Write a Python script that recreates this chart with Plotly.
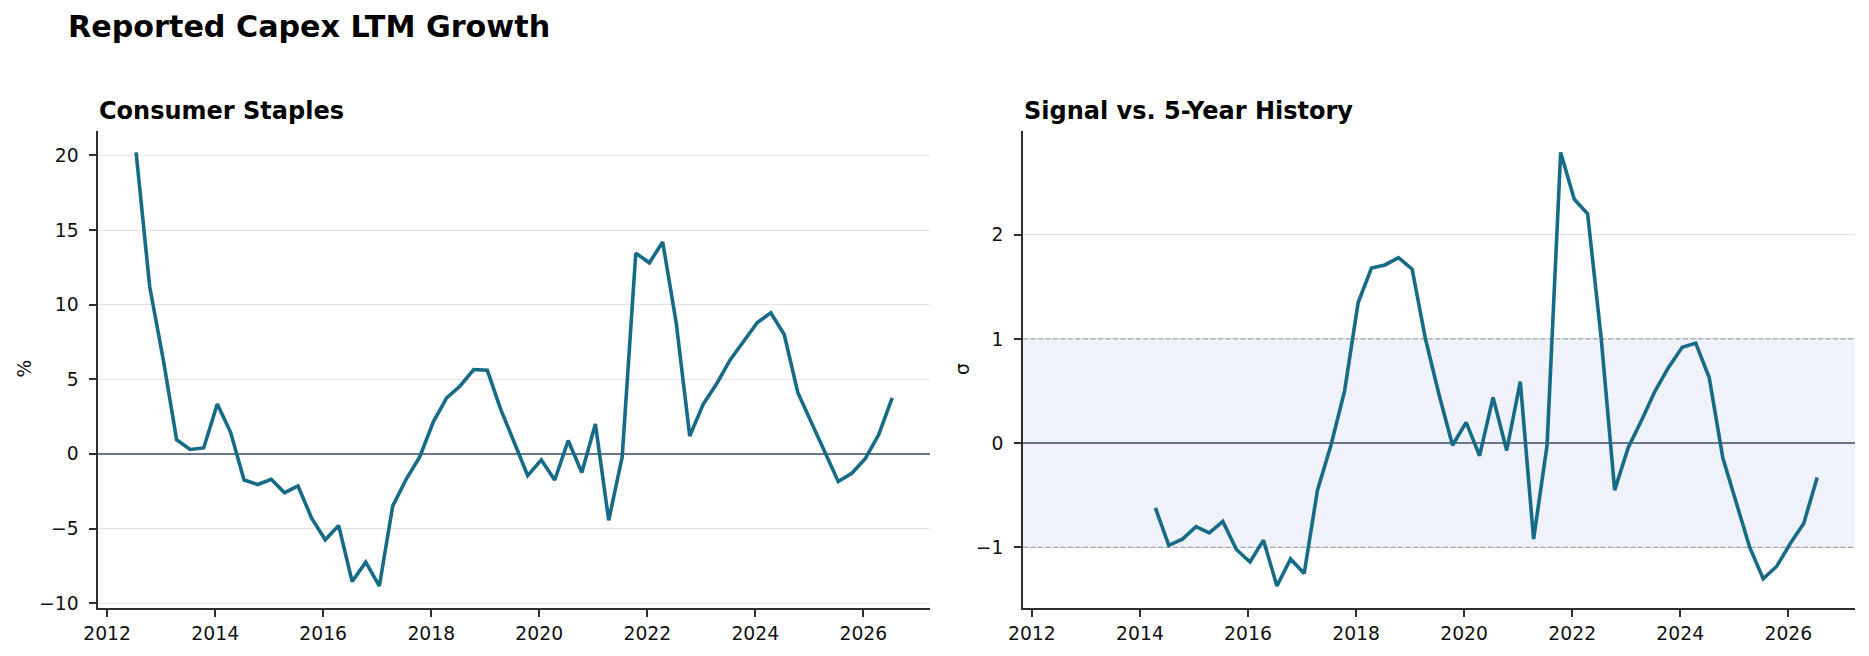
import pandas as pd
import plotly.graph_objects as go

W, H = 1869, 656

# ---------------- data ----------------
dates = pd.date_range("2012-07-15", periods=57, freq=pd.DateOffset(months=3))

capex_growth = [20.2, 11.2, 6.3, 0.95, 0.3, 0.4, 3.35, 1.45, -1.75, -2.05,
                -1.7, -2.6, -2.15, -4.3, -5.75, -4.8, -8.55, -7.25, -8.85, -3.5,
                -1.7, -0.2, 2.15, 3.75, 4.55, 5.65, 5.6, 3.0, 0.8, -1.45,
                -0.4, -1.75, 0.9, -1.25, 2.0, -4.45, -0.2, 13.45, 12.8, 14.2,
                8.8, 1.2, 3.35, 4.7, 6.3, 7.55, 8.8, 9.45, 8.0, 4.1,
                2.1, 0.1, -1.85, -1.3, -0.3, 1.3, 3.75]

sigma_start = 7  # z-score series begins 7 quarters later
sigma = [-0.62, -0.98, -0.92, -0.80, -0.86, -0.75, -1.02, -1.14, -0.93, -1.37,
         -1.11, -1.25, -0.45, -0.02, 0.50, 1.35, 1.68, 1.71, 1.78, 1.67,
         1.0, 0.47, -0.02, 0.2, -0.12, 0.44, -0.07, 0.59, -0.92, -0.02,
         2.79, 2.34, 2.20, 1.02, -0.45, -0.04, 0.22, 0.50, 0.73, 0.92,
         0.96, 0.63, -0.14, -0.57, -1.0, -1.30, -1.18, -0.96, -0.77, -0.33]
sigma_dates = dates[sigma_start:]

band_lo, band_hi = -1, 1

main_title = "Reported Capex LTM Growth"
left_title = "Consumer Staples"
right_title = "Signal vs. 5-Year History"
left_ylabel = "%"
right_ylabel = "σ"
year_ticks = ["2012", "2014", "2016", "2018", "2020", "2022", "2024", "2026"]

# ---------------- styles ----------------
LINE = "#176B87"
SPINE = "#2e2e2e"
GRID = "#dfe2ea"
ZERO = "#6b778c"
BAND = "#eff2f8"
DASH = "#9aa6b9"
FONT = "DejaVu Sans"
TICK_PX = 18.75


def xp(px):
    return px / W


def yp(py):
    return 1 - py / H


def padded(lo, hi, frac=0.05):
    span = hi - lo
    return [lo - frac * span, hi + frac * span]


x0, x1 = dates[0], dates[-1]
xspan = x1 - x0
xrange_ = [x0 - 0.05 * xspan, x1 + 0.05 * xspan]

fig = go.Figure()
# dashed band edges on the right panel (drawn beneath the data line)
for lvl in (band_hi, band_lo):
    fig.add_trace(go.Scatter(x=xrange_, y=[lvl, lvl], mode="lines",
                             line=dict(color=DASH, width=1.3, dash="5px,2.5px"),
                             xaxis="x2", yaxis="y2", showlegend=False, hoverinfo="skip"))

fig.add_trace(go.Scatter(x=dates, y=capex_growth, mode="lines",
                         line=dict(color=LINE, width=3.6), xaxis="x", yaxis="y",
                         showlegend=False, hoverinfo="x+y"))
fig.add_trace(go.Scatter(x=sigma_dates, y=sigma, mode="lines",
                         line=dict(color=LINE, width=3.6), xaxis="x2", yaxis="y2",
                         showlegend=False, hoverinfo="x+y"))

ydom = [yp(607.7), yp(130.7)]

common_x = dict(
    type="date", range=xrange_, showgrid=False, zeroline=False, automargin=False,
    showline=True, linecolor=SPINE, linewidth=1.7,
    ticks="outside", ticklen=7, tickwidth=1.6, tickcolor=SPINE,
    tickvals=[f"{y}-01-01" for y in year_ticks], ticktext=year_ticks,
    tickfont=dict(family=FONT, size=TICK_PX, color="#111111"),
    ticklabelstandoff=1,
)
common_y = dict(
    showgrid=True, gridcolor=GRID, gridwidth=1, automargin=False,
    zeroline=True, zerolinecolor=ZERO, zerolinewidth=1.7,
    showline=True, linecolor=SPINE, linewidth=1.7,
    ticks="outside", ticklen=7, tickwidth=1.6, tickcolor=SPINE,
    tickfont=dict(family=FONT, size=TICK_PX, color="#111111"),
    ticklabelstandoff=7,
)

fig.update_layout(
    width=W, height=H, autosize=False, showlegend=False,
    margin=dict(l=0, r=0, t=0, b=0, pad=0, autoexpand=False),
    paper_bgcolor="white", plot_bgcolor="white",
    font=dict(family=FONT, color="#111111"),
    xaxis=dict(domain=[xp(98.3), xp(930)], anchor="y", **common_x),
    yaxis=dict(domain=ydom, anchor="x", range=padded(min(capex_growth), max(capex_growth)),
               tick0=0, dtick=5, **common_y),
    xaxis2=dict(domain=[xp(1023), xp(1855)], anchor="y2", **common_x),
    yaxis2=dict(domain=ydom, anchor="x2", range=padded(min(sigma), max(sigma)),
                tick0=0, dtick=1, **common_y),
    shapes=[
        dict(type="rect", xref="x2 domain", x0=0, x1=1, yref="y2", y0=band_lo, y1=band_hi,
             fillcolor=BAND, line=dict(width=0), layer="below"),
    ],
    annotations=[
        dict(text=f"<b>{main_title}</b>", xref="paper", yref="paper",
             x=xp(66), y=yp(26), xanchor="left", yanchor="middle", showarrow=False,
             font=dict(family=FONT, size=30.2, color="#000000")),
        dict(text=f"<b>{left_title}</b>", xref="paper", yref="paper",
             x=xp(97), y=yp(111.5), xanchor="left", yanchor="middle", showarrow=False,
             font=dict(family=FONT, size=24, color="#000000")),
        dict(text=f"<b>{right_title}</b>", xref="paper", yref="paper",
             x=xp(1022), y=yp(111.5), xanchor="left", yanchor="middle", showarrow=False,
             font=dict(family=FONT, size=24, color="#000000")),
        dict(text=left_ylabel, xref="paper", yref="paper", textangle=-90,
             x=xp(23.5), y=yp(369), xanchor="center", yanchor="middle", showarrow=False,
             font=dict(family=FONT, size=TICK_PX, color="#111111")),
        dict(text=right_ylabel, xref="paper", yref="paper", textangle=-90,
             x=xp(962), y=yp(369), xanchor="center", yanchor="middle", showarrow=False,
             font=dict(family=FONT, size=TICK_PX, color="#111111")),
    ],
)

fig.write_html("out.html")
